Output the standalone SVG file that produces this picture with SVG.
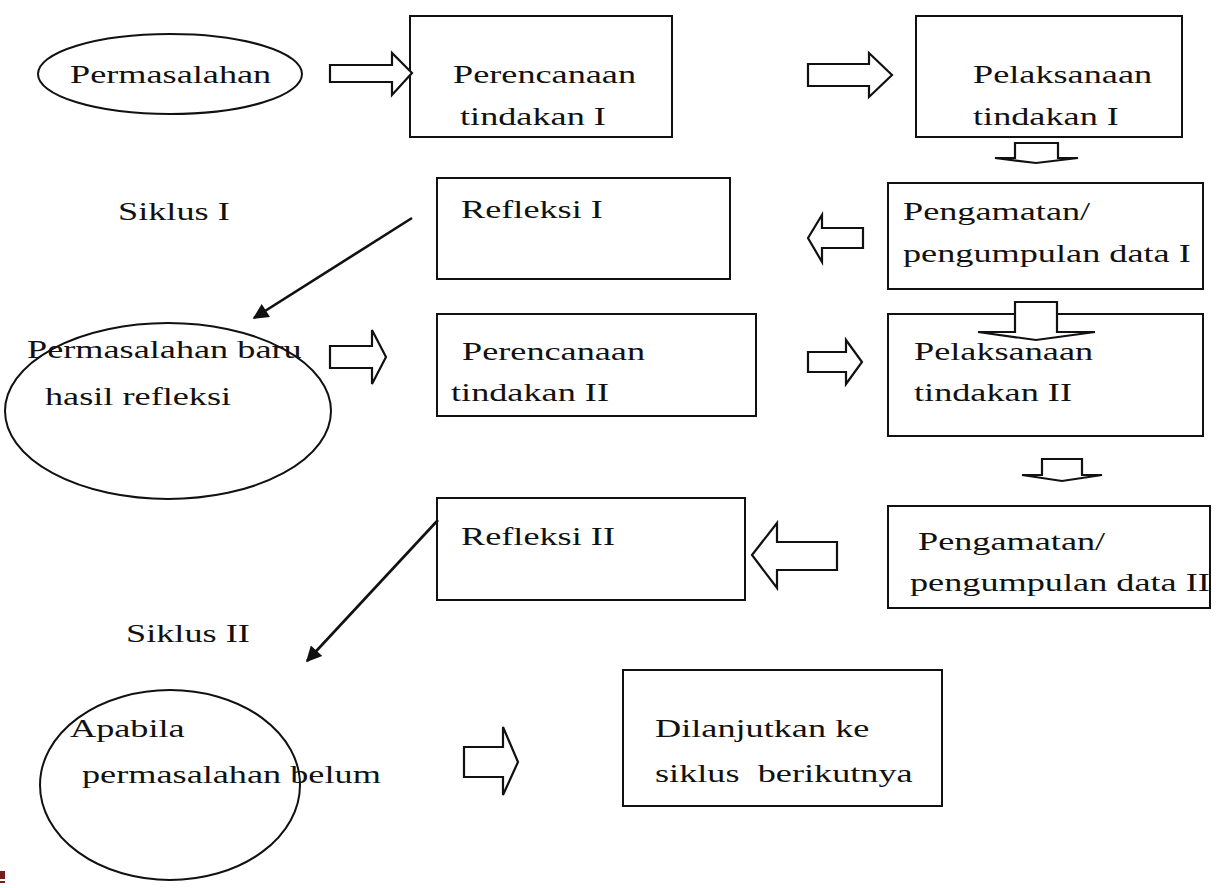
<svg xmlns="http://www.w3.org/2000/svg" width="1216" height="888" viewBox="0 0 1216 888">
  <style>
    .box { fill: #fff; stroke: #111; stroke-width: 2; }
    .ell { fill: none; stroke: #111; stroke-width: 2; }
    .blk { fill: #fff; stroke: #111; stroke-width: 2.2; stroke-linejoin: miter; }
    .lbl { font-family: "Liberation Serif", "Times New Roman", serif; font-size: 25px; fill: #111; white-space: pre; }
    .ln { stroke: #111; stroke-width: 2.6; fill: none; }
  </style>
  <defs>
    <marker id="head" viewBox="0 0 10 10" refX="9" refY="5" markerWidth="7" markerHeight="6" orient="auto" markerUnits="strokeWidth">
      <path d="M0,0 L10,5 L0,10 z" fill="#111"/>
    </marker>
  </defs>
  <rect width="1216" height="888" fill="#fff"/>

  <!-- cycle I -->
  <g id="n-permasalahan">
    <ellipse class="ell" cx="170" cy="74" rx="132" ry="40"/>
    <text class="lbl" transform="translate(70,83) scale(1.45 1)">Permasalahan</text>
  </g>
  <g id="n-perencanaan-1">
    <rect class="box" x="410" y="16" width="262" height="121"/>
    <text class="lbl" transform="translate(453,83) scale(1.45 1)">Perencanaan</text>
    <text class="lbl" transform="translate(460,125) scale(1.45 1)">tindakan I</text>
  </g>
  <g id="n-pelaksanaan-1">
    <rect class="box" x="916" y="16" width="266" height="121"/>
    <text class="lbl" transform="translate(973,83) scale(1.45 1)">Pelaksanaan</text>
    <text class="lbl" transform="translate(973,125) scale(1.45 1)">tindakan I</text>
  </g>
  <g id="n-siklus-1">
    <text class="lbl" transform="translate(118,220) scale(1.45 1)">Siklus I</text>
  </g>
  <g id="n-refleksi-1">
    <rect class="box" x="437" y="178" width="293" height="101"/>
    <text class="lbl" transform="translate(461,218) scale(1.45 1)">Refleksi I</text>
  </g>
  <g id="n-pengamatan-1">
    <rect class="box" x="888" y="183" width="315" height="106"/>
    <text class="lbl" transform="translate(903,220) scale(1.45 1)">Pengamatan/</text>
    <text class="lbl" transform="translate(903,262) scale(1.45 1)">pengumpulan data I</text>
  </g>

  <!-- cycle II -->
  <g id="n-permasalahan-baru">
    <ellipse class="ell" cx="168" cy="411" rx="163" ry="88"/>
    <text class="lbl" transform="translate(27,358) scale(1.45 1)">Permasalahan baru</text>
    <text class="lbl" transform="translate(45,405) scale(1.45 1)">hasil refleksi</text>
  </g>
  <g id="n-perencanaan-2">
    <rect class="box" x="437" y="314" width="319" height="102"/>
    <text class="lbl" transform="translate(462,360) scale(1.45 1)">Perencanaan</text>
    <text class="lbl" transform="translate(451,401) scale(1.45 1)">tindakan II</text>
  </g>
  <g id="n-pelaksanaan-2">
    <rect class="box" x="888" y="314" width="315" height="122"/>
    <text class="lbl" transform="translate(914,360) scale(1.45 1)">Pelaksanaan</text>
    <text class="lbl" transform="translate(914,401) scale(1.45 1)">tindakan II</text>
  </g>
  <g id="n-refleksi-2">
    <rect class="box" x="437" y="498" width="308" height="102"/>
    <text class="lbl" transform="translate(461,545) scale(1.45 1)">Refleksi II</text>
  </g>
  <g id="n-pengamatan-2">
    <rect class="box" x="888" y="506" width="322" height="102"/>
    <text class="lbl" transform="translate(918,550) scale(1.45 1)">Pengamatan/</text>
    <text class="lbl" transform="translate(910,591) scale(1.45 1)">pengumpulan data II</text>
  </g>
  <g id="n-siklus-2">
    <text class="lbl" transform="translate(126,642) scale(1.45 1)">Siklus II</text>
  </g>

  <!-- continuation -->
  <g id="n-apabila">
    <ellipse class="ell" cx="170" cy="785" rx="130" ry="95"/>
    <text class="lbl" transform="translate(70,737) scale(1.45 1)">Apabila</text>
    <text class="lbl" transform="translate(82,783) scale(1.45 1)">permasalahan belum</text>
  </g>
  <g id="n-dilanjutkan">
    <rect class="box" x="623" y="670" width="319" height="136"/>
    <text class="lbl" transform="translate(655,737) scale(1.45 1)">Dilanjutkan ke</text>
    <text class="lbl" transform="translate(655,782) scale(1.45 1)">siklus  berikutnya</text>
  </g>

  <g id="connectors">
    <!-- block arrows -->
    <polygon class="blk" points="330,65 392,65 392,53 412,73 392,95 392,82 330,82"/>
    <polygon class="blk" points="808,64 869,64 869,53 892,75 869,97 869,86 808,86"/>
    <polygon class="blk" points="1015,143 1058,143 1058,158 1078,158 1036,163 995,158 1015,158"/>
    <polygon class="blk" points="808,238 822,215 822,228 863,228 863,248 822,248 822,262"/>
    <polygon class="blk" points="1015,302 1057,302 1057,332 1095,332 1036,340 978,332 1015,332"/>
    <polygon class="blk" points="330,346 372,346 372,330 386,357 372,384 372,368 330,368"/>
    <polygon class="blk" points="808,352 846,352 846,340 862,362 846,384 846,372 808,372"/>
    <polygon class="blk" points="1042,459 1082,459 1082,475 1102,475 1062,481 1022,475 1042,475"/>
    <polygon class="blk" points="752,555 777,523 777,542 837,542 837,570 777,570 777,588"/>
    <polygon class="blk" points="464,747 503,747 503,727 518,762 503,795 503,777 464,777"/>
    <!-- diagonal returns -->
    <line class="ln" x1="412" y1="218" x2="254" y2="318" marker-end="url(#head)"/>
    <line class="ln" x1="438" y1="520" x2="307" y2="661" marker-end="url(#head)"/>
  </g>

  <!-- corner mark -->
  <rect x="0" y="871" width="5" height="8" fill="#7b1c1c"/>
  <rect x="0" y="881" width="5" height="2" fill="#7b1c1c"/>
</svg>
